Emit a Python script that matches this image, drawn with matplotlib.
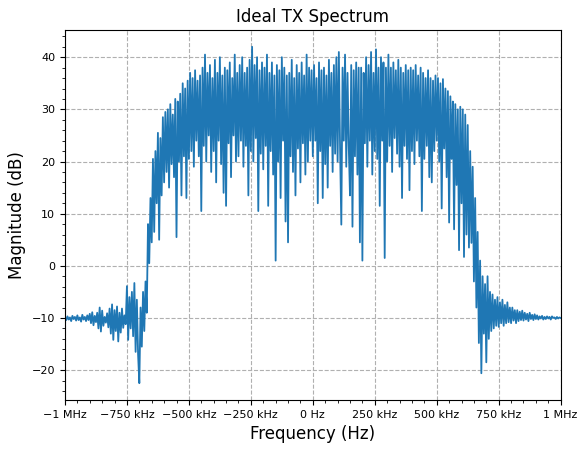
import numpy as np
import matplotlib
matplotlib.use("Agg")
import matplotlib.pyplot as plt
from matplotlib.ticker import EngFormatter, AutoMinorLocator, MultipleLocator

# Frequency grid: -1 MHz .. 1 MHz, 5 kHz steps (401 points)
f_start, f_stop, n_points = -1e6, 1e6, 401

# Magnitude (dB), left to right
floor_left = [
    -10.0, -10.4, -9.7, -10.3, -9.9, -10.6, -9.6, -10.2, -9.8, -10.5,
    -9.5, -10.4, -9.9, -10.7, -9.4, -10.3, -9.8, -10.6, -9.5, -10.4,
    -9.2, -11.0, -8.9, -11.4, -9.6, -10.8, -9.0, -12.0, -8.0, -12.6,
    -8.6, -11.5, -9.8, -10.9, -9.1, -11.8, -8.2, -13.0, -7.4, -14.2,
    -8.5, -12.5, -7.8, -14.5, -9.0, -12.8, -8.2, -11.9, -9.5, -11.2,
    -3.9, -14.2, -6.0, -12.0, -5.0, -13.5, -3.3, -16.5, -6.5, -17.0,
]
rise_left = [
    -22.5, -8.0, -15.5, -5.0, -12.5, -3.0, -9.0, 8.0, 0.5, 13.0,
    4.5, 20.5, 6.5, 22.0, 12.0, 25.5, 5.0, 24.5, 13.5, 28.5,
    16.0, 29.5, 18.0, 30.0, 15.0, 31.0, 19.5, 29.0, 17.0, 32.0,
    5.5, 31.5, 20.0, 33.0, 13.5, 35.0, 21.0, 34.0, 13.0, 35.5,
]
passband_left = [
    20.5, 37.0, 22.0, 36.0, 19.0, 37.5, 24.0, 35.5, 21.0, 36.5,
    10.5, 38.0, 23.0, 40.5, 20.0, 37.0, 25.0, 38.5, 18.0, 36.0,
    22.0, 39.5, 16.0, 37.0, 24.0, 40.0, 19.5, 36.5, 14.0, 38.0,
    11.5, 37.5, 23.5, 39.0, 17.0, 36.0, 25.0, 40.5, 20.0, 37.0,
    21.0, 38.5, 24.0, 40.0, 19.0, 37.0, 23.0, 38.0, 13.5, 39.5,
    22.0, 42.0, 20.0, 38.5, 24.5, 40.0, 10.5, 37.5, 21.5, 39.0,
    18.5, 38.0, 23.0, 40.5, 11.5, 37.0, 22.0, 39.0, 17.5, 36.5,
    1.0, 38.5, 20.0, 37.5, 13.0, 40.0, 24.0, 38.0, 8.5, 36.5,
    4.5, 37.0, 21.0, 39.5, 18.0, 36.0, 13.5, 38.5, 22.5, 37.0,
    16.0, 39.0, 23.5, 36.5, 17.5, 40.5, 20.0, 38.0, 24.0, 37.5,
]
passband_right = [
    21.0, 38.5, 24.0, 36.0, 12.0, 39.0, 22.0, 37.5, 13.0, 38.0,
    19.5, 36.5, 15.0, 39.5, 23.0, 37.0, 18.0, 38.5, 21.5, 40.0,
    20.0, 41.0, 22.5, 7.9, 38.0, 24.0, 40.5, 19.0, 37.0, 23.0,
    13.5, 38.5, 7.5, 37.5, 21.0, 39.0, 17.5, 38.0, 4.5, 38.0,
    1.0, 37.0, 23.5, 40.0, 19.0, 38.5, 24.0, 41.0, 17.5, 37.0,
    22.0, 41.5, 20.5, 38.0, 11.5, 40.0, 24.0, 39.0, 1.5, 38.0,
    20.0, 40.5, 23.0, 38.0, 18.0, 39.0, 24.5, 37.5, 21.5, 39.5,
    19.0, 38.0, 13.0, 37.0, 23.0, 38.5, 20.5, 37.5, 14.5, 38.0,
    22.0, 37.5, 19.5, 38.5, 24.0, 36.5, 21.0, 38.0, 10.5, 37.0,
    20.5, 36.0, 23.0, 37.5, 17.0, 36.0, 16.0, 35.5, 22.0, 36.5,
]
fall_right = [
    24.0, 36.0, 20.0, 35.0, 11.0, 35.8, 22.5, 34.0, 17.0, 33.5,
    8.3, 32.5, 20.5, 31.5, 7.0, 31.0, 15.5, 30.0, 3.0, 30.5,
    12.0, 30.0, 1.7, 29.0, 6.0, 27.0, 3.5, 22.0, 4.4, 19.0,
    -3.0, 13.0, -8.0, 6.5, -14.8, 1.0, -20.6, -2.0, -13.0, -3.5,
]
floor_right = [
    -18.5, -2.0, -14.0, -5.0, -12.5, -5.5, -12.0, -6.5, -11.5, -6.0,
    -11.7, -7.0, -11.0, -6.5, -11.5, -7.5, -11.0, -7.0, -10.8, -8.0,
    -11.0, -8.0, -10.5, -8.5, -11.0, -8.5, -10.6, -8.8, -10.4, -8.6,
    -10.5, -9.0, -10.3, -9.2, -10.6, -9.0, -10.2, -9.4, -10.4, -9.3,
    -10.2, -9.5, -10.3, -9.7, -10.1, -9.6, -10.3, -9.8, -10.2, -9.7,
    -10.1, -9.8, -10.3, -9.7, -10.0, -9.9, -10.2, -9.8, -10.1, -9.9,
    -10.0,
]

magnitude_db = np.array(floor_left + rise_left + passband_left
                        + passband_right + fall_right + floor_right)
freqs = np.linspace(f_start, f_stop, len(magnitude_db))

fig = plt.figure(figsize=(5.88, 4.54), dpi=100)
ax = fig.add_axes([0.1105, 0.119, 0.843, 0.815])
ax.plot(freqs, magnitude_db, color="#1f77b4", linewidth=1.3)

ax.set_xlim(f_start, f_stop)
ax.xaxis.set_major_locator(MultipleLocator(250e3))
ax.xaxis.set_major_formatter(EngFormatter(unit="Hz"))
ax.xaxis.set_minor_locator(AutoMinorLocator(5))
ax.yaxis.set_major_locator(MultipleLocator(10))
ax.yaxis.set_minor_locator(AutoMinorLocator(5))
ax.tick_params(axis="both", which="major", labelsize=8)
ax.grid(True, which="major", linestyle="--", color="#b0b0b0", linewidth=0.8)

ax.set_title("Ideal TX Spectrum", fontsize=12)
ax.set_xlabel("Frequency (Hz)", fontsize=12)
ax.set_ylabel("Magnitude (dB)", fontsize=12)

fig.savefig("out.png", dpi=100)
